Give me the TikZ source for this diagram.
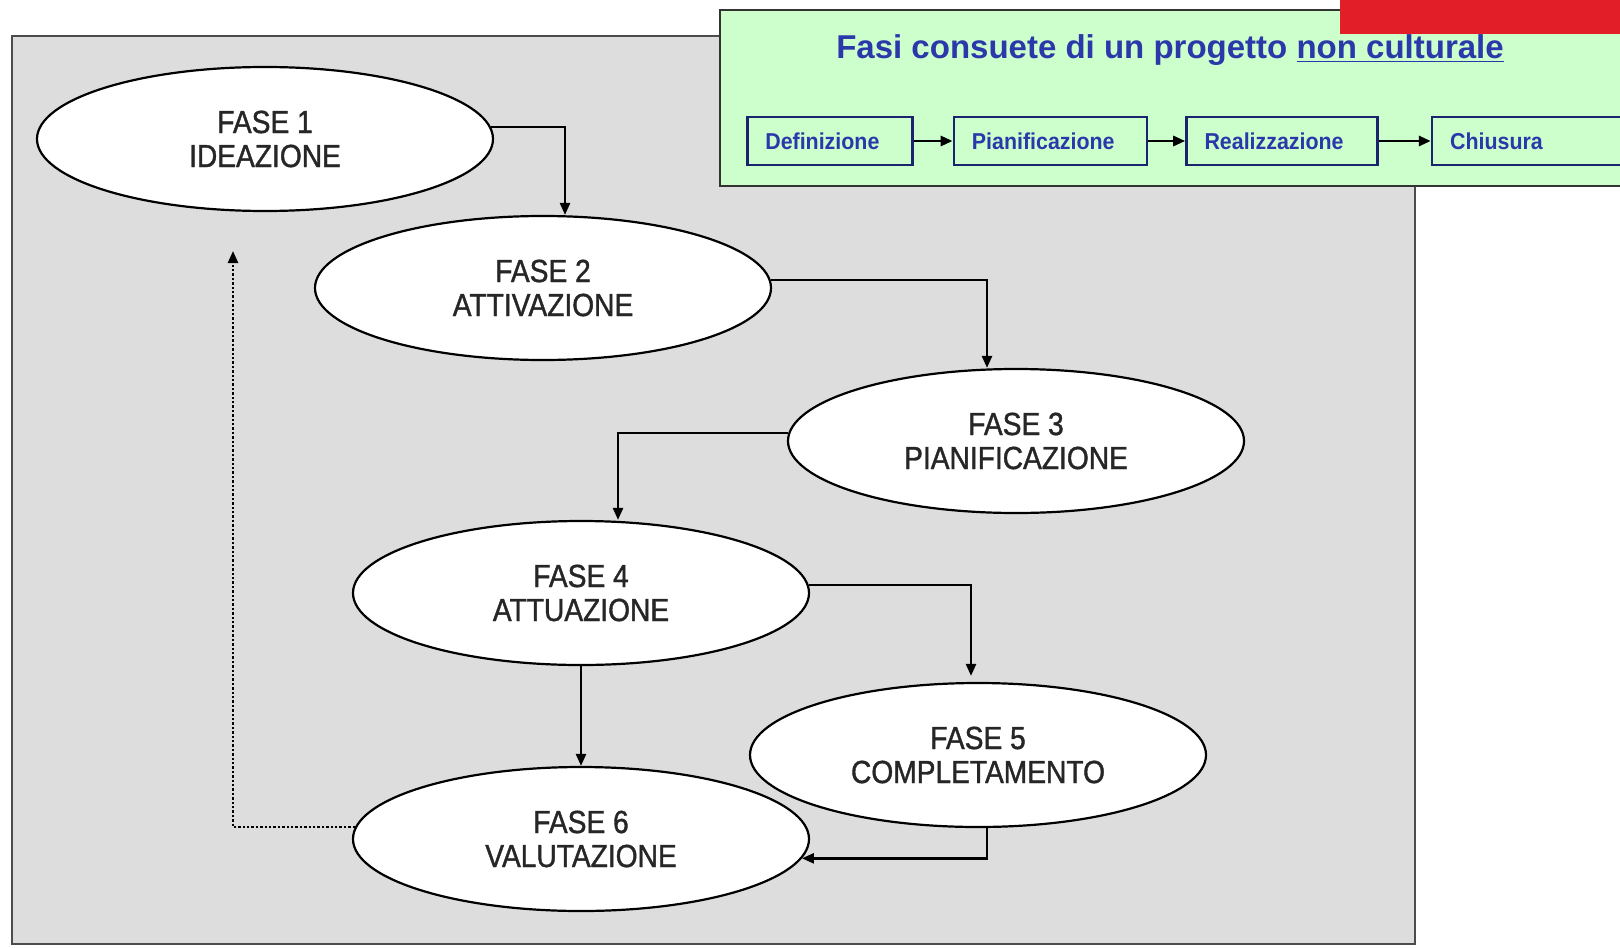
\documentclass[tikz,border=0pt]{standalone}
\usepackage{fontspec}
\setmainfont{Liberation Sans}
\newfontfamily\narrowfont{Liberation Sans}[FakeStretch=0.88,FakeBold=1.2]
\newfontfamily\boxfont{Liberation Sans Bold}[FakeStretch=0.93]
\usetikzlibrary{shapes.geometric,positioning,arrows.meta}
\definecolor{pannello}{RGB}{221,221,221}
\definecolor{verdino}{RGB}{204,255,204}
\definecolor{blutitolo}{RGB}{43,56,170}
\definecolor{bordoblu}{RGB}{25,35,110}
\definecolor{rosso}{RGB}{226,30,40}
\begin{document}
\begin{tikzpicture}[>={Triangle[length=6pt,width=5pt]},x=0.5pt,y=-0.5pt,
	fase/.style={ellipse,draw=black,line width=1.1pt,fill=white,minimum width=228pt,minimum height=72pt,inner sep=0pt,align=center,text=black!85,font=\narrowfont\fontsize{16}{17}\selectfont},
	freccia/.style={->,line width=1.2pt},
	passo/.style={draw=bordoblu,line width=1.3pt,fill=verdino,minimum height=24pt,inner xsep=9pt,inner ysep=0pt,align=left,text width=#1,text=blutitolo,font=\boxfont\fontsize{11.5}{12}\selectfont}]
	\useasboundingbox (0,0) rectangle (1620,947);
	\fill[white] (0,0) rectangle (1620,947);
	% sfondo e riquadro
	\draw[draw=black!70,fill=pannello,line width=1pt] (12,36) rectangle (1415,944);
	\draw[draw=black!80,fill=verdino,line width=1.2pt] (720,10) rectangle (1640,186);
	\fill[rosso] (1340,0) rectangle (1620,34);
	\node[text=blutitolo,font=\bfseries\fontsize{16.5}{18}\selectfont] (titolo) at (1170,50) {Fasi consuete di un progetto \underline{non culturale}};
	% fasi non culturali
	\node[passo=64.5pt,anchor=west] (def) at (746,141) {Definizione};
	\node[passo=78.5pt,right=19.5pt of def] (pia) {Pianificazione};
	\node[passo=77.5pt,right=18.5pt of pia] (rea) {Realizzazione};
	\node[passo=76.5pt,right=26pt of rea] (chi) {Chiusura};
	\draw[->,line width=1.4pt] (def) -- (pia);
	\draw[->,line width=1.4pt] (pia) -- (rea);
	\draw[->,line width=1.4pt] (rea) -- (chi);
	% fasi del progetto
	\node[fase] (f1) at (265,139) {FASE 1\\IDEAZIONE};
	\node[fase] (f2) at (543,288) {FASE 2\\ATTIVAZIONE};
	\node[fase] (f3) at (1016,441) {FASE 3\\PIANIFICAZIONE};
	\node[fase] (f4) at (581,593) {FASE 4\\ATTUAZIONE};
	\node[fase] (f6) at (581,839) {FASE 6\\VALUTAZIONE};
	\node[fase] (f5) at (978,755) {FASE 5\\COMPLETAMENTO};
	\coordinate (ritorno) at (233,251);
	\draw[freccia] (f1.3) -| ([xshift=11pt]f2.north);
	\draw[freccia] (f2.2) -| ([xshift=-14.5pt]f3.north);
	\draw[freccia] (f3.178) -| ([xshift=18.5pt]f4.north);
	\draw[freccia] (f4.2) -| ([xshift=-3.5pt,yshift=3pt]f5.north);
	\draw[freccia] (f4.south) -- (f6.north);
	\draw[freccia] ([xshift=4.5pt]f5.south) |- (f6.-5);
	\draw[freccia,densely dotted] (f6.177) -| (ritorno);
\end{tikzpicture}
\end{document}
